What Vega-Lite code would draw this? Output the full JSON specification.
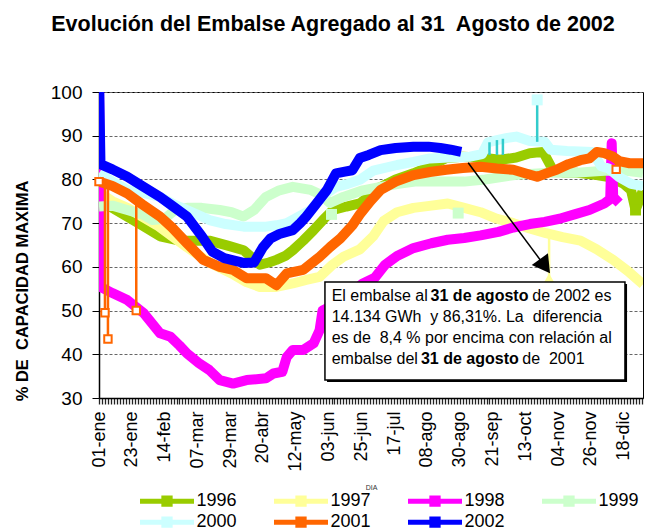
{
  "$schema": "https://vega.github.io/schema/vega-lite/v6.json",
  "autosize": {"type": "none"},
  "padding": {"left": 99, "top": 92, "right": 9, "bottom": 134},
  "width": 544,
  "height": 306,
  "background": "white",
  "title": {"text": "Evolución del Embalse Agregado al 31\u00a0 Agosto de 2002", "font": "Liberation Sans", "fontSize": 21.5, "fontWeight": "bold", "color": "#000", "anchor": "middle", "frame": "group", "dx": -38, "offset": 47.6},
  "datasets": {
    "lines": [
      {"serie":"1996","dia":1,"valor":75.7},{"serie":"1996","dia":10,"valor":73.5},{"serie":"1996","dia":20,"valor":71.5},{"serie":"1996","dia":30,"valor":69.5},{"serie":"1996","dia":42,"valor":67},{"serie":"1996","dia":55,"valor":66},{"serie":"1996","dia":64,"valor":66},{"serie":"1996","dia":75,"valor":66},{"serie":"1996","dia":88,"valor":64.8},{"serie":"1996","dia":98,"valor":63.8},{"serie":"1996","dia":104,"valor":62},{"serie":"1996","dia":109,"valor":60.5},{"serie":"1996","dia":115,"valor":61},{"serie":"1996","dia":120,"valor":61.6},{"serie":"1996","dia":126,"valor":62.5},{"serie":"1996","dia":131,"valor":63.8},{"serie":"1996","dia":138,"valor":66},{"serie":"1996","dia":145,"valor":68.4},{"serie":"1996","dia":152,"valor":71},{"serie":"1996","dia":158,"valor":73},{"serie":"1996","dia":167,"valor":73.8},{"serie":"1996","dia":176,"valor":74.5},{"serie":"1996","dia":183,"valor":76.5},{"serie":"1996","dia":190,"valor":78.3},{"serie":"1996","dia":200,"valor":80},{"serie":"1996","dia":212,"valor":81.4},{"serie":"1996","dia":223,"valor":83},{"serie":"1996","dia":234,"valor":84.9},{"serie":"1996","dia":245,"valor":85.2},{"serie":"1996","dia":257,"valor":85},{"serie":"1996","dia":270,"valor":84.5},{"serie":"1996","dia":281,"valor":85},{"serie":"1996","dia":290,"valor":86},{"serie":"1996","dia":299,"valor":86.3},{"serie":"1996","dia":305,"valor":82.5},{"serie":"1996","dia":312,"valor":81.6},{"serie":"1996","dia":322,"valor":81.5},{"serie":"1996","dia":335,"valor":81},{"serie":"1996","dia":344,"valor":80.5},{"serie":"1996","dia":353,"valor":79},{"serie":"1996","dia":358,"valor":77.5},{"serie":"1996","dia":361,"valor":73},{"serie":"1996","dia":366,"valor":77.5},
      {"serie":"1997","dia":1,"valor":77},{"serie":"1997","dia":10,"valor":75},{"serie":"1997","dia":20,"valor":73.5},{"serie":"1997","dia":30,"valor":71.5},{"serie":"1997","dia":40,"valor":69.5},{"serie":"1997","dia":50,"valor":67},{"serie":"1997","dia":60,"valor":64.5},{"serie":"1997","dia":75,"valor":61},{"serie":"1997","dia":90,"valor":58.5},{"serie":"1997","dia":100,"valor":56.5},{"serie":"1997","dia":109,"valor":55.4},{"serie":"1997","dia":120,"valor":55.4},{"serie":"1997","dia":131,"valor":56.2},{"serie":"1997","dia":140,"valor":57},{"serie":"1997","dia":149,"valor":57.7},{"serie":"1997","dia":157,"valor":60.3},{"serie":"1997","dia":165,"valor":62.3},{"serie":"1997","dia":176,"valor":64},{"serie":"1997","dia":185,"valor":67},{"serie":"1997","dia":192,"valor":70.5},{"serie":"1997","dia":201,"valor":72.5},{"serie":"1997","dia":212,"valor":73.5},{"serie":"1997","dia":224,"valor":74},{"serie":"1997","dia":235,"valor":74.5},{"serie":"1997","dia":246,"valor":73.5},{"serie":"1997","dia":257,"valor":72.5},{"serie":"1997","dia":268,"valor":71},{"serie":"1997","dia":279,"valor":70},{"serie":"1997","dia":290,"valor":68.8},{"serie":"1997","dia":301,"valor":67.7},{"serie":"1997","dia":312,"valor":66.8},{"serie":"1997","dia":324,"valor":66},{"serie":"1997","dia":335,"valor":64},{"serie":"1997","dia":346,"valor":61.6},{"serie":"1997","dia":356,"valor":59},{"serie":"1997","dia":366,"valor":56},
      {"serie":"1998","dia":1,"valor":104},{"serie":"1998","dia":2,"valor":55.4},{"serie":"1998","dia":10,"valor":54},{"serie":"1998","dia":20,"valor":52.4},{"serie":"1998","dia":31,"valor":49.4},{"serie":"1998","dia":42,"valor":44.8},{"serie":"1998","dia":49,"valor":44},{"serie":"1998","dia":55,"valor":42},{"serie":"1998","dia":60,"valor":40.2},{"serie":"1998","dia":68,"valor":38},{"serie":"1998","dia":75,"valor":36.4},{"serie":"1998","dia":82,"valor":34.1},{"serie":"1998","dia":91,"valor":33.3},{"serie":"1998","dia":100,"valor":34.1},{"serie":"1998","dia":113,"valor":34.5},{"serie":"1998","dia":118,"valor":35.6},{"serie":"1998","dia":124,"valor":36},{"serie":"1998","dia":127,"valor":39.4},{"serie":"1998","dia":131,"valor":41},{"serie":"1998","dia":138,"valor":41},{"serie":"1998","dia":145,"valor":42.5},{"serie":"1998","dia":149,"valor":45.5},{"serie":"1998","dia":151,"valor":50},{"serie":"1998","dia":160,"valor":51.5},{"serie":"1998","dia":170,"valor":54},{"serie":"1998","dia":178,"valor":56.2},{"serie":"1998","dia":186,"valor":57.5},{"serie":"1998","dia":193,"valor":60.5},{"serie":"1998","dia":201,"valor":62.5},{"serie":"1998","dia":212,"valor":64.3},{"serie":"1998","dia":224,"valor":65.4},{"serie":"1998","dia":235,"valor":66.2},{"serie":"1998","dia":246,"valor":66.6},{"serie":"1998","dia":257,"valor":67.2},{"serie":"1998","dia":269,"valor":68},{"serie":"1998","dia":279,"valor":69},{"serie":"1998","dia":290,"valor":69.8},{"serie":"1998","dia":300,"valor":70.3},{"serie":"1998","dia":310,"valor":71},{"serie":"1998","dia":320,"valor":72},{"serie":"1998","dia":330,"valor":73},{"serie":"1998","dia":340,"valor":74.5},{"serie":"1998","dia":344,"valor":75.5},{"serie":"1998","dia":345,"valor":88.3},{"serie":"1998","dia":346,"valor":76},{"serie":"1998","dia":350,"valor":74.6},
      {"serie":"1999","dia":1,"valor":73.8},{"serie":"1999","dia":10,"valor":74},{"serie":"1999","dia":20,"valor":73},{"serie":"1999","dia":30,"valor":72},{"serie":"1999","dia":37,"valor":70.7},{"serie":"1999","dia":45,"valor":71},{"serie":"1999","dia":52,"valor":73},{"serie":"1999","dia":60,"valor":73.5},{"serie":"1999","dia":70,"valor":73.5},{"serie":"1999","dia":82,"valor":73},{"serie":"1999","dia":90,"valor":72.5},{"serie":"1999","dia":98,"valor":71.5},{"serie":"1999","dia":105,"valor":73},{"serie":"1999","dia":113,"valor":76},{"serie":"1999","dia":122,"valor":77.5},{"serie":"1999","dia":131,"valor":78.3},{"serie":"1999","dia":143,"valor":77.6},{"serie":"1999","dia":150,"valor":76.5},{"serie":"1999","dia":156,"valor":74.6},{"serie":"1999","dia":165,"valor":76},{"serie":"1999","dia":178,"valor":77.5},{"serie":"1999","dia":190,"valor":78.3},{"serie":"1999","dia":202,"valor":79},{"serie":"1999","dia":213,"valor":79.5},{"serie":"1999","dia":224,"valor":79.5},{"serie":"1999","dia":246,"valor":79.5},{"serie":"1999","dia":260,"valor":80},{"serie":"1999","dia":280,"valor":81},{"serie":"1999","dia":300,"valor":81.5},{"serie":"1999","dia":320,"valor":81.5},{"serie":"1999","dia":340,"valor":82},{"serie":"1999","dia":355,"valor":82},{"serie":"1999","dia":366,"valor":81.5},
      {"serie":"2000","dia":1,"valor":81.4},{"serie":"2000","dia":10,"valor":79.5},{"serie":"2000","dia":20,"valor":77.6},{"serie":"2000","dia":30,"valor":77},{"serie":"2000","dia":42,"valor":76},{"serie":"2000","dia":50,"valor":74.5},{"serie":"2000","dia":60,"valor":73},{"serie":"2000","dia":68,"valor":71.8},{"serie":"2000","dia":75,"valor":70.7},{"serie":"2000","dia":86,"valor":69.8},{"serie":"2000","dia":98,"valor":69.2},{"serie":"2000","dia":113,"valor":69.2},{"serie":"2000","dia":120,"valor":69.5},{"serie":"2000","dia":127,"valor":70},{"serie":"2000","dia":135,"valor":71.5},{"serie":"2000","dia":143,"valor":73},{"serie":"2000","dia":152,"valor":76.5},{"serie":"2000","dia":160,"valor":78.3},{"serie":"2000","dia":168,"valor":79},{"serie":"2000","dia":176,"valor":79.9},{"serie":"2000","dia":185,"valor":82},{"serie":"2000","dia":201,"valor":83.3},{"serie":"2000","dia":212,"valor":84},{"serie":"2000","dia":223,"valor":84.8},{"serie":"2000","dia":236,"valor":85},{"serie":"2000","dia":250,"valor":85.2},{"serie":"2000","dia":258,"valor":85.8},{"serie":"2000","dia":262,"valor":88.5},{"serie":"2000","dia":268,"valor":89},{"serie":"2000","dia":275,"valor":89.5},{"serie":"2000","dia":281,"valor":89.8},{"serie":"2000","dia":290,"valor":88.8},{"serie":"2000","dia":300,"valor":88.6},{"serie":"2000","dia":304,"valor":86.8},{"serie":"2000","dia":315,"valor":86.5},{"serie":"2000","dia":332,"valor":86.3},{"serie":"2000","dia":338,"valor":83},{"serie":"2000","dia":343,"valor":82.5},{"serie":"2000","dia":350,"valor":80.5},{"serie":"2000","dia":358,"valor":79},{"serie":"2000","dia":366,"valor":78.5},
      {"serie":"2001","dia":1,"valor":79.5},{"serie":"2001","dia":10,"valor":78.5},{"serie":"2001","dia":20,"valor":76.8},{"serie":"2001","dia":30,"valor":74.3},{"serie":"2001","dia":42,"valor":71.5},{"serie":"2001","dia":50,"valor":69},{"serie":"2001","dia":60,"valor":65.4},{"serie":"2001","dia":71,"valor":61.6},{"serie":"2001","dia":82,"valor":60},{"serie":"2001","dia":91,"valor":59.3},{"serie":"2001","dia":100,"valor":57.4},{"serie":"2001","dia":113,"valor":57.4},{"serie":"2001","dia":120,"valor":55.8},{"serie":"2001","dia":127,"valor":58.5},{"serie":"2001","dia":138,"valor":59.3},{"serie":"2001","dia":149,"valor":62.3},{"serie":"2001","dia":156,"valor":64.5},{"serie":"2001","dia":163,"valor":66.5},{"serie":"2001","dia":171,"valor":69.5},{"serie":"2001","dia":176,"valor":72},{"serie":"2001","dia":183,"valor":75},{"serie":"2001","dia":190,"valor":77.6},{"serie":"2001","dia":200,"valor":79.5},{"serie":"2001","dia":212,"valor":81},{"serie":"2001","dia":223,"valor":81.7},{"serie":"2001","dia":234,"valor":82.2},{"serie":"2001","dia":245,"valor":82.6},{"serie":"2001","dia":257,"valor":82.9},{"serie":"2001","dia":268,"valor":82.5},{"serie":"2001","dia":279,"valor":82.2},{"serie":"2001","dia":288,"valor":81.3},{"serie":"2001","dia":295,"valor":80.6},{"serie":"2001","dia":302,"valor":81.5},{"serie":"2001","dia":308,"valor":82.2},{"serie":"2001","dia":316,"valor":83.5},{"serie":"2001","dia":324,"valor":84.4},{"serie":"2001","dia":330,"valor":84.8},{"serie":"2001","dia":335,"valor":86.3},{"serie":"2001","dia":340,"valor":86},{"serie":"2001","dia":346,"valor":85.2},{"serie":"2001","dia":350,"valor":84.2},{"serie":"2001","dia":357,"valor":83.7},{"serie":"2001","dia":366,"valor":83.7},
      {"serie":"2002","dia":1,"valor":104},{"serie":"2002","dia":2,"valor":83.5},{"serie":"2002","dia":10,"valor":82.3},{"serie":"2002","dia":20,"valor":80.6},{"serie":"2002","dia":30,"valor":78.5},{"serie":"2002","dia":42,"valor":76},{"serie":"2002","dia":50,"valor":74},{"serie":"2002","dia":60,"valor":71.5},{"serie":"2002","dia":70,"valor":67},{"serie":"2002","dia":77,"valor":63.5},{"serie":"2002","dia":85,"valor":62},{"serie":"2002","dia":98,"valor":60.9},{"serie":"2002","dia":105,"valor":61},{"serie":"2002","dia":111,"valor":64.5},{"serie":"2002","dia":116,"valor":66.5},{"serie":"2002","dia":122,"valor":67.5},{"serie":"2002","dia":131,"valor":68.4},{"serie":"2002","dia":136,"valor":70},{"serie":"2002","dia":140,"valor":71.5},{"serie":"2002","dia":147,"valor":74.5},{"serie":"2002","dia":154,"valor":77.6},{"serie":"2002","dia":160,"valor":81.4},{"serie":"2002","dia":166,"valor":81.8},{"serie":"2002","dia":171,"valor":82.1},{"serie":"2002","dia":176,"valor":84.9},{"serie":"2002","dia":182,"valor":85.6},{"serie":"2002","dia":190,"valor":86.7},{"serie":"2002","dia":200,"valor":87.2},{"serie":"2002","dia":212,"valor":87.5},{"serie":"2002","dia":222,"valor":87.5},{"serie":"2002","dia":230,"valor":87.2},{"serie":"2002","dia":237,"valor":86.8},{"serie":"2002","dia":244,"valor":86.3}
    ],
    "spikes": [
      {"serie":"2001","dia":5,"valor":78.5,"valor2":49.5},
      {"serie":"2001","dia":7,"valor":78.2,"valor2":43.5},
      {"serie":"2001","dia":26,"valor":74.5,"valor2":50},
      {"serie":"2001","dia":348,"valor":84.5,"valor2":82.3},
      {"serie":"2000","dia":263,"valor":88.5,"valor2":85.6},
      {"serie":"2000","dia":268,"valor":89,"valor2":85.6},
      {"serie":"2000","dia":272,"valor":89.3,"valor2":85.6},
      {"serie":"2000","dia":295,"valor":88.6,"valor2":98.2},
      {"serie":"1997","dia":303,"valor":67.5,"valor2":57.5}
    ],
    "markers": [
      {"serie":"2001","dia":1,"valor":79.5},{"serie":"2001","dia":5,"valor":49.5},{"serie":"2001","dia":7,"valor":43.5},{"serie":"2001","dia":26,"valor":50},{"serie":"2001","dia":348,"valor":82.3},
      {"serie":"2000","dia":295,"valor":98.2},
      {"serie":"1999","dia":157,"valor":72},{"serie":"1999","dia":242,"valor":72.3},
      {"serie":"1996","dia":361,"valor":73},
      {"serie":"1997","dia":303,"valor":57.3}
    ],
    "box": [{"dia":152.6,"dia2":353.9,"valor":56.53,"valor2":34.11}],
    "shadow": [{"dia":154.0,"dia2":355.3,"valor":56.07,"valor2":33.65}],
    "nota_normal": [
      {"texto":"El embalse al","dia":157.1,"valor":53.33},
      {"texto":"de 2002 es","dia":291.7,"valor":53.33},
      {"texto":"14.134 GWh\u00a0 y 86,31%. La\u00a0 diferencia","dia":157.1,"valor":48.52},
      {"texto":"es de\u00a0 8,4 % por encima con relación al","dia":157.1,"valor":43.72},
      {"texto":"embalse del","dia":157.1,"valor":38.92},
      {"texto":"de\u00a0 2001","dia":285.0,"valor":38.92}
    ],
    "nota_negrita": [
      {"texto":"31 de agosto","dia":223.5,"valor":53.33},
      {"texto":"31 de agosto","dia":217.0,"valor":38.92}
    ],
    "flecha": [{"dia":248.7,"valor":83.8,"dia2":300.2,"valor2":60.15}],
    "punta": [{"dia":300.2,"valor":60.15}]
  },
  "layer": [
    {
      "data": {"name": "lines"},
      "transform": [{"filter": "datum.serie < '2000'"}],
      "mark": {"type": "line", "clip": true, "strokeJoin": "round", "strokeCap": "butt"},
      "encoding": {
        "x": {"field": "dia", "type": "quantitative", "scale": {"domain": [1, 366], "nice": false, "zero": false},
          "axis": {
            "values": [1,3,5,7,9,11,13,15,17,19,21,23,25,27,29,31,33,35,37,39,41,43,45,47,49,51,53,55,57,59,61,63,65,67,69,71,73,75,77,79,81,83,85,87,89,91,93,95,97,99,101,103,105,107,109,111,113,115,117,119,121,123,125,127,129,131,133,135,137,139,141,143,145,147,149,151,153,155,157,159,161,163,165,167,169,171,173,175,177,179,181,183,185,187,189,191,193,195,197,199,201,203,205,207,209,211,213,215,217,219,221,223,225,227,229,231,233,235,237,239,241,243,245,247,249,251,253,255,257,259,261,263,265,267,269,271,273,275,277,279,281,283,285,287,289,291,293,295,297,299,301,303,305,307,309,311,313,315,317,319,321,323,325,327,329,331,333,335,337,339,341,343,345,347,349,351,353,355,357,359,361,363,365],
            "tickCount": 1000,
            "labelExpr": "(datum.value - 1) % 22 == 0 ? ['01-ene','23-ene','14-feb','07-mar','29-mar','20-abr','12-may','03-jun','25-jun','17-jul','08-ago','30-ago','21-sep','13-oct','04-nov','26-nov','18-dic'][(datum.value - 1) / 22] : ''",
            "labelAngle": 270, "labelAlign": "right", "labelBaseline": "middle",
            "labelFont": "Liberation Sans", "labelFontSize": 18, "labelColor": "#000", "labelPadding": 7,
            "labelOverlap": false, "labelBound": false, "labelFlush": false,
            "ticks": true, "tickSize": 6, "tickColor": "#222", "tickWidth": 1.3, "tickOpacity": 1, "tickRound": true, "grid": false,
            "domainColor": "#000", "domainWidth": 1.5, "zindex": 1,
            "title": "DIA", "titleFont": "Liberation Sans", "titleFontSize": 7, "titleFontWeight": "normal", "titleColor": "#333", "titleY": 89, "titleBaseline": "middle"
          }
        },
        "y": {"field": "valor", "type": "quantitative", "scale": {"domain": [30, 100], "nice": false, "zero": false},
          "axis": {
            "values": [30,40,50,60,70,80,90,100],
            "title": "% DE\u00a0 CAPACIDAD MAXIMA", "titleFont": "Liberation Sans", "titleFontSize": 16.5, "titleFontWeight": "bold", "titleColor": "#000",
            "titleAngle": 270, "titleX": -77, "titleY": 198.5, "titleAlign": "center", "titleBaseline": "middle",
            "labelFont": "Liberation Sans", "labelFontSize": 19, "labelColor": "#000", "labelPadding": 10,
            "tickSize": 7, "tickColor": "#000", "domainColor": "#000", "domainWidth": 1.5,
            "grid": true, "gridColor": "#666", "gridDash": [3, 2], "gridWidth": 1
          }
        },
        "color": {"field": "serie", "type": "nominal",
          "scale": {"domain": ["1996","1997","1998","1999"], "range": ["#99CC00","#FFFF99","#FF00FF","#CCFFCC"]},
          "legend": {"title": null, "orient": "none", "legendX": 38.5, "legendY": 397.5, "direction": "horizontal",
            "symbolType": "M-1,0H5M1.65,-0.35H2.35V0.35H1.65Z", "symbolSize": 324, "symbolStrokeWidth": 5,
            "labelFont": "Liberation Sans", "labelFontSize": 18, "labelColor": "#000", "labelOffset": 36,
            "columnPadding": 26}
        },
        "strokeWidth": {"field": "serie", "type": "nominal",
          "scale": {"domain": ["1996","1997","1998","1999","2000","2001","2002"], "range": [10,10,7,11,10,10,11]}, "legend": null}
      }
    },
    {
      "data": {"name": "lines"},
      "transform": [{"filter": "datum.serie >= '2000'"}],
      "mark": {"type": "line", "clip": true, "strokeJoin": "round", "strokeCap": "butt"},
      "encoding": {
        "x": {"field": "dia", "type": "quantitative"},
        "y": {"field": "valor", "type": "quantitative"},
        "stroke": {"field": "serie", "type": "nominal",
          "scale": {"domain": ["2000","2001","2002"], "range": ["#CCFFFF","#FF6600","#0000FF"]},
          "legend": {"title": null, "orient": "none", "legendX": 38.5, "legendY": 418.5, "direction": "horizontal",
            "symbolType": "M-1,0H5M1.65,-0.35H2.35V0.35H1.65Z", "symbolSize": 324, "symbolStrokeWidth": 5,
            "labelFont": "Liberation Sans", "labelFontSize": 18, "labelColor": "#000", "labelOffset": 36,
            "columnPadding": 26}
        },
        "strokeWidth": {"field": "serie", "type": "nominal", "legend": null}
      }
    },
    {
      "data": {"name": "spikes"},
      "mark": {"type": "rule", "strokeWidth": 2.5, "clip": true},
      "encoding": {
        "x": {"field": "dia", "type": "quantitative"},
        "y": {"field": "valor", "type": "quantitative"},
        "y2": {"field": "valor2"},
        "color": {"condition": [{"test": "datum.serie == '2000'", "value": "#33CCCC"}, {"test": "datum.serie == '1997'", "value": "#FFFF99"}], "value": "#FF6600"}
      }
    },
    {
      "data": {"name": "markers"},
      "transform": [{"filter": "datum.serie == '1996' || datum.serie == '1999' || datum.serie == '2000'"}],
      "mark": {"type": "point", "shape": "square", "filled": true, "opacity": 1, "size": 120},
      "encoding": {
        "x": {"field": "dia", "type": "quantitative"},
        "y": {"field": "valor", "type": "quantitative"},
        "color": {"condition": [{"test": "datum.serie == '2000'", "value": "#CCFFFF"}, {"test": "datum.serie == '1999'", "value": "#CCFFCC"}], "value": "#99CC00"}
      }
    },
    {
      "data": {"name": "markers"},
      "transform": [{"filter": "datum.serie == '2001'"}],
      "mark": {"type": "point", "shape": "square", "filled": false, "fill": "white", "color": "#FF6600", "opacity": 1, "strokeWidth": 2, "size": 55},
      "encoding": {
        "x": {"field": "dia", "type": "quantitative"},
        "y": {"field": "valor", "type": "quantitative"}
      }
    },
    {
      "data": {"name": "markers"},
      "transform": [{"filter": "datum.serie == '1997'"}],
      "mark": {"type": "point", "shape": "triangle-up", "filled": true, "color": "#FFFF99", "opacity": 1, "size": 140},
      "encoding": {
        "x": {"field": "dia", "type": "quantitative"},
        "y": {"field": "valor", "type": "quantitative"}
      }
    },
    {
      "data": {"name": "shadow"},
      "mark": {"type": "rect", "fill": "#000"},
      "encoding": {
        "x": {"field": "dia", "type": "quantitative"}, "x2": {"field": "dia2"},
        "y": {"field": "valor", "type": "quantitative"}, "y2": {"field": "valor2"}
      }
    },
    {
      "data": {"name": "box"},
      "mark": {"type": "rect", "fill": "#fff", "stroke": "#000", "strokeWidth": 1.5},
      "encoding": {
        "x": {"field": "dia", "type": "quantitative"}, "x2": {"field": "dia2"},
        "y": {"field": "valor", "type": "quantitative"}, "y2": {"field": "valor2"}
      }
    },
    {
      "data": {"name": "nota_normal"},
      "mark": {"type": "text", "align": "left", "baseline": "middle", "font": "Liberation Sans", "fontSize": 16, "color": "#000"},
      "encoding": {
        "x": {"field": "dia", "type": "quantitative"},
        "y": {"field": "valor", "type": "quantitative"},
        "text": {"field": "texto"}
      }
    },
    {
      "data": {"name": "nota_negrita"},
      "mark": {"type": "text", "align": "left", "baseline": "middle", "font": "Liberation Sans", "fontSize": 16, "fontWeight": "bold", "color": "#000"},
      "encoding": {
        "x": {"field": "dia", "type": "quantitative"},
        "y": {"field": "valor", "type": "quantitative"},
        "text": {"field": "texto"}
      }
    },
    {
      "data": {"name": "flecha"},
      "mark": {"type": "rule", "color": "#000", "strokeWidth": 1.5},
      "encoding": {
        "x": {"field": "dia", "type": "quantitative"}, "x2": {"field": "dia2"},
        "y": {"field": "valor", "type": "quantitative"}, "y2": {"field": "valor2"}
      }
    },
    {
      "data": {"name": "punta"},
      "mark": {"type": "point", "shape": "triangle-up", "angle": 144.2, "filled": true, "color": "#000", "opacity": 1, "size": 400},
      "encoding": {
        "x": {"field": "dia", "type": "quantitative"},
        "y": {"field": "valor", "type": "quantitative"}
      }
    }
  ],
  "config": {
    "view": {"stroke": "#000", "strokeWidth": 1},
    "font": "Liberation Sans"
  }
}
